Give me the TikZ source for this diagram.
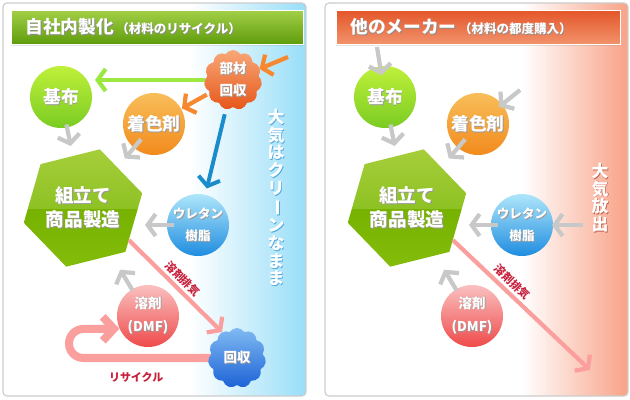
\documentclass[tikz,border=0pt]{standalone}
\usepackage{fontspec}
\setmainfont{Noto Sans CJK JP}
\usetikzlibrary{shapes.geometric, shapes.symbols, arrows.meta, positioning, shadows}

\definecolor{panelline}{HTML}{CCCCCC}
\definecolor{skyend}{HTML}{98DEF8}
\definecolor{salmonend}{HTML}{F8A286}
\definecolor{arrowgray}{HTML}{C8C8C8}
\definecolor{greenline}{HTML}{9BE840}
\definecolor{orangeline}{HTML}{F7882F}
\definecolor{blueline}{HTML}{1A8CCB}
\definecolor{pinkline}{HTML}{FB9E9E}
\definecolor{labelred}{HTML}{C8203C}
\definecolor{limetop}{HTML}{BFF03A}
\definecolor{limebot}{HTML}{7ACC22}
\definecolor{orangetop}{HTML}{F8BE5A}
\definecolor{orangebot}{HTML}{F28A1C}
\definecolor{bluetop}{HTML}{AEE6FA}
\definecolor{bluebot}{HTML}{1F8DE0}
\definecolor{pinktop}{HTML}{FAC0C0}
\definecolor{pinkbot}{HTML}{EF4A4A}
\definecolor{puffotop}{HTML}{F8A878}
\definecolor{puffobot}{HTML}{E6561A}
\definecolor{puffbtop}{HTML}{80BAF2}
\definecolor{puffbbot}{HTML}{1C62D6}
\definecolor{titlegtop}{HTML}{A2CF46}
\definecolor{titlegbot}{HTML}{5E9C0C}
\definecolor{titlertop}{HTML}{E4562A}
\definecolor{titlerbot}{HTML}{F2936C}
\definecolor{hexhigh}{HTML}{A6CE3A}
\definecolor{hexhighbot}{HTML}{8EC224}
\definecolor{hexlowtop}{HTML}{77B200}
\definecolor{hexlow}{HTML}{84BC0A}
\definecolor{skyshadow}{HTML}{4FA6DC}
\definecolor{salmonshadow}{HTML}{C0604A}

\pgfdeclareverticalshading{hexshade}{100bp}{color(0bp)=(hexlow); color(25bp)=(hexlow); color(49.6bp)=(hexlowtop); color(50bp)=(hexhighbot); color(75bp)=(hexhigh); color(100bp)=(hexhigh)}

\pgfdeclarelayer{bg}
\pgfsetlayers{bg,main}

% white text with a small shadow
\newcommand{\stx}[2][black!40]{\leavevmode\rlap{\hspace{0.6pt}\raisebox{-0.6pt}{\textcolor{#1}{#2}}}\textcolor{white}{#2}}

\begin{document}
\begin{tikzpicture}[x=0.025cm, y=-0.025cm,
    panel/.style={draw=panelline, line width=0.8pt, rounded corners=0.1cm},
    titlebar/.style={rectangle, draw=white, line width=0.5pt, anchor=north west, minimum width=7.3cm, minimum height=0.85cm, text width=6.6cm, inner xsep=0.35cm, align=left, text=white, font=\bfseries, drop shadow={opacity=0.2, shadow xshift=0pt, shadow yshift=-1.2pt}},
    ball/.style={circle, minimum size=1.55cm, inner sep=0pt, align=center, text=white, font=\bfseries\fontsize{12.6}{14}\selectfont},
    smallball/.style={ball, font=\bfseries\fontsize{8.9}{15.6}\selectfont},
    midball/.style={ball, font=\bfseries\fontsize{9.6}{17}\selectfont},
    puff/.style={cloud, cloud puffs=11, cloud puff arc=115, aspect=1, minimum width=1.45cm, minimum height=1.5cm, inner sep=0pt, align=center, text=white, font=\bfseries\fontsize{9.6}{15.6}\selectfont},
    hexa/.style={regular polygon, regular polygon sides=6, shape border rotate=14, minimum size=3.05cm, inner sep=0pt, shade, shading=hexshade, align=center, text=white, font=\bfseries\fontsize{13.2}{17}\selectfont},
    vlabel/.style={align=center, inner sep=0pt, text=white, font=\bfseries\fontsize{12}{12.6}\selectfont},
    haiki/.style={inner sep=2pt, text=labelred, font=\bfseries\fontsize{7.8}{9}\selectfont},
    grayarrow/.style={draw=arrowgray, line width=3pt, -{Straight Barb[length=0.2cm, width=0.55cm]}},
    greenarrow/.style={grayarrow, draw=greenline},
    orangearrow/.style={grayarrow, draw=orangeline},
    bluearrow/.style={grayarrow, draw=blueline, line width=2.8pt},
    pinkarrow/.style={grayarrow, draw=pinkline},
    looparrow/.style={draw=pinkline, line width=5.7pt, -{Straight Barb[length=0.28cm, width=0.6cm]}}
]
    \useasboundingbox (0,0) rectangle (630,400);

    % Panels
    \begin{pgfonlayer}{bg}
    \begin{scope}
        \clip[rounded corners=0.1cm] (3,3) rectangle (306,396);
        \fill[white] (3,3) rectangle (306,396);
        \shade[left color=white, right color=skyend] (190,3) rectangle (306,396);
    \end{scope}
    \draw[panel] (3,3) rectangle (306,396);
    \begin{scope}
        \clip[rounded corners=0.1cm] (325,3) rectangle (628,396);
        \fill[white] (325,3) rectangle (628,396);
        \shade[left color=white, right color=salmonend] (522,3) rectangle (628,396);
    \end{scope}
    \draw[panel] (325,3) rectangle (628,396);
    \end{pgfonlayer}

    % Titles
    \node[titlebar, top color=titlegtop, bottom color=titlegbot] (ltitle) at (11,10)
        {\stx[black!45]{\fontsize{12.6}{14}\selectfont 自社内製化}\,\stx[black!45]{\fontsize{8.9}{10}\selectfont （材料のリサイクル）}};
    \node[titlebar, top color=titlertop, bottom color=titlerbot, minimum width=7.1cm, text width=6.4cm] (rtitle) at (336,10)
        {\stx[black!45]{\fontsize{12.6}{14}\selectfont 他のメーカー}\,\stx[black!45]{\fontsize{8.9}{10}\selectfont （材料の都度購入）}};

    % Place nodes (left)
    \node[ball, top color=limetop, bottom color=limebot] (kifu) at (61,97) {\stx{基布}};
    \node[ball, top color=orangetop, bottom color=orangebot] (chakushoku) at (154,124) {\stx{着色剤}};
    \node[puff, top color=puffotop, bottom color=puffobot] (buzai) at (233,80) {\stx{部材}\\\stx{回収}};
    \node[hexa] (seizou) at (83,208) {\stx{組立て}\\\stx{商品製造}};
    \node[smallball, top color=bluetop, bottom color=bluebot] (urethane) at (198,225) {\stx{ウレタン}\\\stx{樹脂}};
    \node[midball, top color=pinktop, bottom color=pinkbot] (youzai) at (148,316) {\stx{溶剤}\\\stx{(DMF)}};
    \node[puff, top color=puffbtop, bottom color=puffbbot] (kaishu) at (237,358) {\stx{回収}};
    \node[vlabel] (clean) at (276,198) {\stx[skyshadow]{大}\\\stx[skyshadow]{気}\\\stx[skyshadow]{は}\\\stx[skyshadow]{ク}\\\stx[skyshadow]{リ}\\\stx[skyshadow]{\rotatebox[origin=c]{-90}{ー}}\\\stx[skyshadow]{ン}\\\stx[skyshadow]{な}\\\stx[skyshadow]{ま}\\\stx[skyshadow]{ま}};

    % Place nodes (right)
    \node[ball, top color=limetop, bottom color=limebot] (rkifu) at (385,97) {\stx{基布}};
    \node[ball, top color=orangetop, bottom color=orangebot] (rchakushoku) at (478,124) {\stx{着色剤}};
    \node[hexa] (rseizou) at (407,208) {\stx{組立て}\\\stx{商品製造}};
    \node[smallball, top color=bluetop, bottom color=bluebot] (rurethane) at (522,225) {\stx{ウレタン}\\\stx{樹脂}};
    \node[midball, top color=pinktop, bottom color=pinkbot] (ryouzai) at (472,316) {\stx{溶剤}\\\stx{(DMF)}};
    \node[vlabel] (release) at (600,198) {\stx[salmonshadow]{大}\\\stx[salmonshadow]{気}\\\stx[salmonshadow]{放}\\\stx[salmonshadow]{出}};

    \coordinate (buzaiin) at (288,57);
    \coordinate (loopbl) at (69,358);
    \coordinate (looptl) at (69,329);
    \coordinate (rkifuin) at (377,47);
    \coordinate (rchakuin) at (520,90);
    \coordinate (rurein) at (583,225);
    \coordinate (rhaiki) at (590,370);

    % Draw edges (left)
    \begin{pgfonlayer}{bg}
    \draw[looparrow, rounded corners=0.36cm] (kaishu.center) -- node[pos=0.6, below=0.26cm, haiki, inner sep=0pt] (recycle) {リサイクル} (loopbl) -- (looptl) -- (youzai.204);
    \end{pgfonlayer}
    \draw[greenarrow, shorten <=0.7cm, shorten >=0.85cm] (buzai.center) -- (buzai.center -| kifu.center);
    \draw[orangearrow, shorten >=0.72cm] (buzaiin) -- (buzai.center);
    \draw[orangearrow, shorten <=0.75cm, shorten >=0.8cm] (buzai.center) -- (chakushoku.center);
    \draw[bluearrow, shorten <=0.88cm, shorten >=0.94cm] (buzai.center) -- (urethane.center);
    \draw[grayarrow, shorten <=0.7cm, shorten >=1.58cm] (kifu.center) -- (seizou.center);
    \draw[grayarrow, shorten <=0.5cm, shorten >=1.62cm] (chakushoku.center) -- (seizou.center);
    \draw[grayarrow, shorten <=0.6cm, shorten >=1.55cm] (urethane.center) -- (urethane.center -| seizou.center);
    \draw[grayarrow, shorten <=0.75cm, shorten >=1.8cm] (youzai.center) -- (seizou.center);
    \draw[pinkarrow] (seizou.-35) -- (kaishu.120) node[midway, above, sloped, haiki] (lhaiki) {溶剤排気};

    % Draw edges (right)
    \draw[grayarrow, shorten >=0.55cm] (rkifuin) -- (rkifu.center);
    \draw[grayarrow, shorten >=0.68cm] (rchakuin) -- (rchakushoku.center);
    \draw[grayarrow, shorten >=0.75cm] (rurein) -- (rurethane.center);
    \draw[grayarrow, shorten <=0.7cm, shorten >=1.58cm] (rkifu.center) -- (rseizou.center);
    \draw[grayarrow, shorten <=0.5cm, shorten >=1.62cm] (rchakushoku.center) -- (rseizou.center);
    \draw[grayarrow, shorten <=0.6cm, shorten >=1.55cm] (rurethane.center) -- (rurethane.center -| rseizou.center);
    \draw[grayarrow, shorten <=0.75cm, shorten >=1.8cm] (ryouzai.center) -- (rseizou.center);
    \draw[pinkarrow] (rseizou.-35) -- (rhaiki) node[pos=0.38, above, sloped, haiki] (rhaikilabel) {溶剤排気};
\end{tikzpicture}
\end{document}
